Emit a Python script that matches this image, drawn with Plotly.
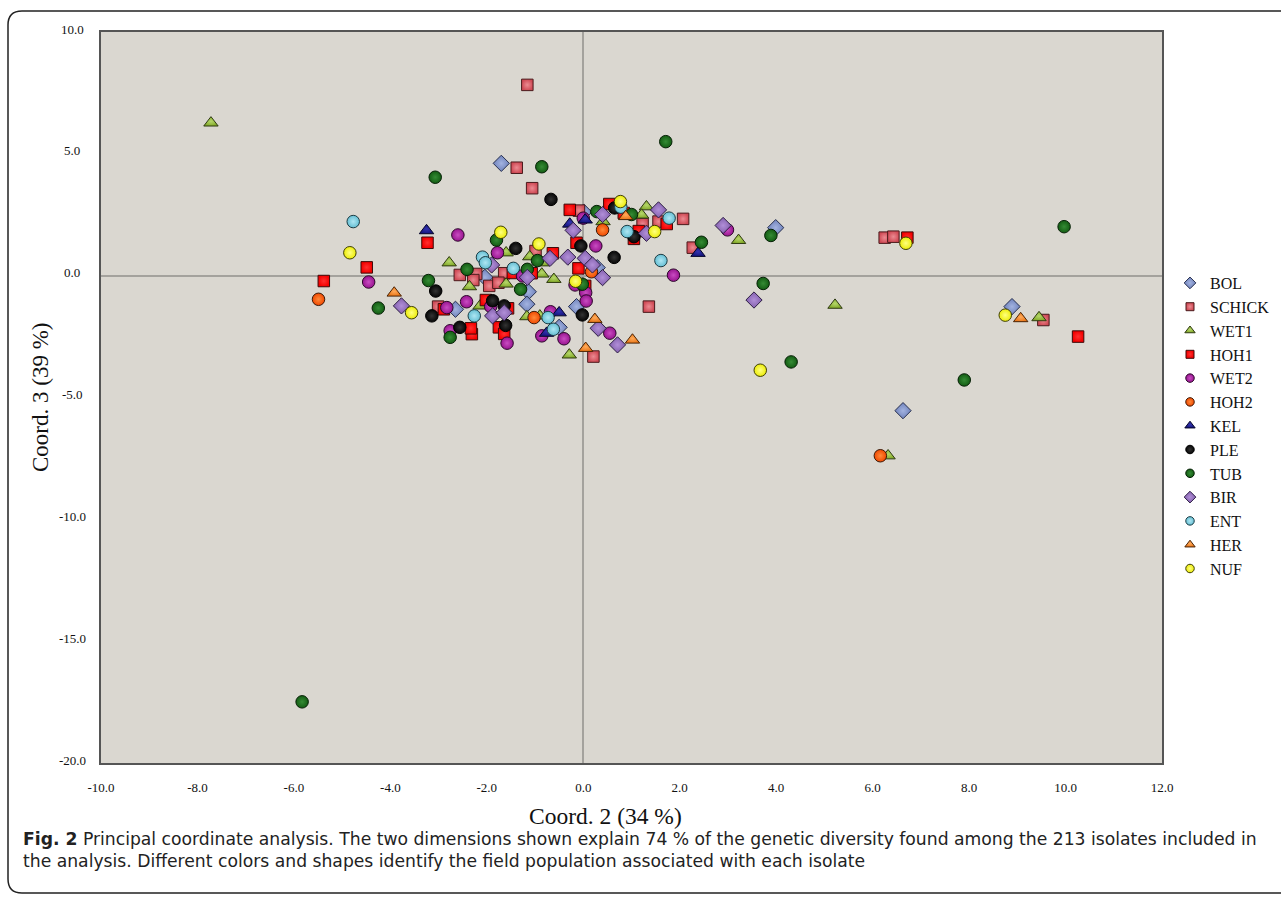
import plotly.graph_objects as go

# Principal coordinate scores (Coord. 2, Coord. 3) per field population
BOL_x = [-1.70, 3.99, 8.89, 6.63, -1.14, -1.17, -2.65, -0.14, -2.04, -0.50, 0.29, 0.01]
BOL_y = [4.61, 1.97, -1.27, -5.54, -0.66, -1.17, -1.38, -1.27, -0.07, -2.12, 0.33, 2.61]

SCHICK_x = [-1.16, -1.38, -1.06, -0.09, 1.23, 1.56, 2.07, 2.27, 6.25, 6.43, 9.54, 1.36, 0.21,
            -0.99, -2.56, -2.22, -1.64, -1.95, -1.76, -3.01, -2.28]
SCHICK_y = [7.83, 4.43, 3.59, 2.67, 2.12, 2.22, 2.33, 1.15, 1.56, 1.60, -1.82, -1.27, -3.32,
            1.01, 0.03, 0.07, 0.10, -0.42, -0.29, -1.27, -0.18]

WET1_x = [-7.72, 1.31, 1.21, 3.22, 5.22, 9.45, 6.32, -2.78, -1.60, -1.11, -0.86, -0.61, -2.36,
          -1.60, -2.14, -1.17, -0.29, -0.85, -0.90, 0.41]
WET1_y = [6.27, 2.83, 2.49, 1.45, -1.21, -1.72, -7.39, 0.53, 0.94, 0.78, 0.07, -0.15, -0.45,
          -0.34, -1.24, -1.68, -3.25, 0.53, -1.65, 2.22]

HOH1_x = [-0.28, 0.54, 1.73, 1.15, -3.23, -4.49, -5.38, 6.72, 10.26, -0.63, -0.14, -0.10, -2.02,
          -1.75, -1.64, -2.31, -2.89, -1.56, -1.07, 0.84, 1.05, -2.33, 0.04, -1.46]
HOH1_y = [2.70, 2.94, 2.12, 1.83, 1.35, 0.34, -0.22, 1.56, -2.50, 0.92, 1.35, 0.30, -1.00,
          -2.12, -2.39, -2.40, -1.38, -1.34, 0.10, 2.57, 1.51, -2.16, -0.42, 0.11]

WET2_x = [-2.60, -4.45, -1.78, 0.26, 1.87, 2.99, -1.26, -0.17, 0.05, 0.06, -2.42, -2.83, -2.76,
          -1.58, -0.68, -0.86, -0.40, 0.55, -1.92, 0.00]
WET2_y = [1.67, -0.26, 0.94, 1.22, 0.02, 1.88, -0.01, -0.38, -0.70, -1.04, -1.07, -1.31, -2.26,
          -2.77, -1.48, -2.47, -2.59, -2.36, -1.27, 2.36]

HOH2_x = [-5.49, 0.40, 0.17, -1.02, 6.16]
HOH2_y = [-0.97, 1.88, 0.16, -1.72, -7.39]

KEL_x = [-3.25, -0.28, 0.04, 2.38, -0.50, -0.76]
KEL_y = [1.85, 2.12, 2.29, 0.92, -1.52, -2.36]

PLE_x = [-0.67, 0.65, 1.05, -1.40, -0.05, 0.64, -3.06, -3.14, -1.88, -1.64, -2.56, -1.61, -0.02]
PLE_y = [3.13, 2.78, 1.60, 1.12, 1.22, 0.75, -0.63, -1.65, -1.03, -1.24, -2.12, -2.04, -1.61]

TUB_x = [1.71, -0.86, -3.07, -5.83, 9.97, 0.28, 1.00, 2.45, 3.89, 3.73, 4.31, 7.90, -1.80,
         -0.95, -2.41, -1.16, -3.21, -4.25, -1.30, -0.02, -2.76]
TUB_y = [5.50, 4.47, 4.04, -17.49, 2.01, 2.63, 2.51, 1.37, 1.65, -0.32, -3.54, -4.28, 1.46,
         0.62, 0.26, 0.26, -0.20, -1.33, -0.56, -0.35, -2.53]

BIR_x = [1.56, 0.40, -0.21, 2.90, 3.54, -3.77, -1.90, -0.69, -0.32, 0.04, 0.19, 0.40, -1.16,
         -1.88, -1.64, 0.31, 0.71, 1.31]
BIR_y = [2.70, 2.51, 1.86, 2.06, -1.00, -1.24, 0.44, 0.71, 0.76, 0.71, 0.44, -0.08, -0.07,
         -1.65, -1.52, -2.16, -2.84, 1.74]

ENT_x = [-4.77, 0.78, 0.91, 1.78, 1.61, -2.09, -2.03, -1.45, -2.26, -0.73, -0.62]
ENT_y = [2.22, 2.81, 1.81, 2.36, 0.62, 0.76, 0.53, 0.30, -1.65, -1.72, -2.20]

HER_x = [-3.92, 0.88, 0.24, 0.05, 1.02, 9.07]
HER_y = [-0.71, 2.43, -1.79, -2.98, -2.64, -1.76]

NUF_x = [-4.84, -3.56, -1.71, -0.92, 0.77, 1.48, -0.16, 6.69, 8.75, 3.67]
NUF_y = [0.94, -1.52, 1.78, 1.30, 3.04, 1.81, -0.23, 1.33, -1.62, -3.88]

x_ticks = [-10, -8, -6, -4, -2, 0, 2, 4, 6, 8, 10, 12]
x_tick_labels = ["-10.0", "-8.0", "-6.0", "-4.0", "-2.0", "0.0", "2.0", "4.0", "6.0", "8.0",
                 "10.0", "12.0"]
y_ticks = [10, 5, 0, -5, -10, -15, -20]
y_tick_labels = ["10.0", "5.0", "0.0", "-5.0", "-10.0", "-15.0", "-20.0"]

# name, x, y, symbol, fill, highlight, outline
populations = [
    ("BOL", BOL_x, BOL_y, "diamond", "#6f82bb", "#a3b3e0", "#28304f"),
    ("SCHICK", SCHICK_x, SCHICK_y, "square", "#cf4a55", "#ec8b92", "#4a1a1c"),
    ("WET1", WET1_x, WET1_y, "triangle-up", "#84ab2a", "#b5d66a", "#2f3a12"),
    ("HOH1", HOH1_x, HOH1_y, "square", "#f40000", "#ff3030", "#3c0a0a"),
    ("WET2", WET2_x, WET2_y, "circle", "#98148f", "#c94cc2", "#2c082b"),
    ("HOH2", HOH2_x, HOH2_y, "circle", "#f04800", "#ff8a3a", "#3c1a08"),
    ("KEL", KEL_x, KEL_y, "triangle-up", "#15157e", "#3333b0", "#05052a"),
    ("PLE", PLE_x, PLE_y, "circle", "#060606", "#333333", "#000000"),
    ("TUB", TUB_x, TUB_y, "circle", "#135c13", "#358c35", "#062006"),
    ("BIR", BIR_x, BIR_y, "diamond", "#8360ad", "#b18fd8", "#2e1f45"),
    ("ENT", ENT_x, ENT_y, "circle", "#66bfd3", "#aee6f3", "#1c3c44"),
    ("HER", HER_x, HER_y, "triangle-up", "#ea7718", "#ffaa5a", "#4a2406"),
    ("NUF", NUF_x, NUF_y, "circle", "#ecec08", "#ffff80", "#3f3f05"),
]

sizes = {"circle": 12.5, "square": 11.5, "triangle-up": 12.5, "diamond": 12.5}
legend_sizes = {"circle": 8.5, "square": 8, "triangle-up": 9, "diamond": 9}

fig = go.Figure()
for name, xs, ys, sym, fill, hi, edge in populations:
    fig.add_trace(go.Scatter(
        x=xs, y=ys, mode="markers", name=name, showlegend=False, legendgroup=name,
        marker=dict(symbol=sym, size=sizes[sym], color=fill,
                    gradient=dict(type="radial", color=hi),
                    line=dict(color=edge, width=1)),
    ))
# legend keys use smaller symbols than the plotted points
for name, xs, ys, sym, fill, hi, edge in populations:
    fig.add_trace(go.Scatter(
        x=[None], y=[None], mode="markers", name=name, legendgroup=name,
        marker=dict(symbol=sym, size=legend_sizes[sym], color=fill,
                    gradient=dict(type="radial", color=hi),
                    line=dict(color=edge, width=1)),
    ))

serif = "Liberation Serif"

# plot area geometry in pixels (for placing text around it)
W, H = 1281, 900
L, R, T, B = 101, 1162, 32, 763


def px_x(p):
    return (p - L) / (R - L)


def px_y(p):
    return (B - p) / (B - T)


annotations = []
for v, lab in zip(y_ticks, y_tick_labels):
    annotations.append(dict(x=px_x(72), xref="paper", y=v, yref="y", text=lab,
                            showarrow=False, xanchor="center", yanchor="middle", yshift=3,
                            font=dict(family=serif, size=13, color="#111")))

annotations += [
    dict(x=px_x(605), y=px_y(816), xref="paper", yref="paper", text="Coord. 2 (34 %)",
         showarrow=False, xanchor="center", yanchor="middle",
         font=dict(family=serif, size=23.5, color="#111")),
    dict(x=px_x(40), y=px_y(398), xref="paper", yref="paper", text="Coord. 3 (39 %)",
         showarrow=False, xanchor="center", yanchor="middle", textangle=-90,
         font=dict(family=serif, size=23, color="#111")),
    dict(x=px_x(21), y=px_y(839), xref="paper", yref="paper",
         text="<b>Fig. 2</b> Principal coordinate analysis. The two dimensions shown explain 74 % of "
              "the genetic diversity found among the 213 isolates included in",
         showarrow=False, xanchor="left", yanchor="middle", align="left",
         font=dict(family="DejaVu Sans", size=17.2, color="#222")),
    dict(x=px_x(21), y=px_y(861), xref="paper", yref="paper",
         text="the analysis. Different colors and shapes identify the field population associated "
              "with each isolate",
         showarrow=False, xanchor="left", yanchor="middle", align="left",
         font=dict(family="DejaVu Sans", size=17.2, color="#222")),
]

# rounded frame around the figure panel (right side runs past the page edge)
fl, ft, fb, fr = px_x(8), px_y(11), px_y(893), px_x(1300)
rx, ry = 14 / (R - L), 14 / (B - T)
frame_path = (f"M {fr},{ft} L {fl + rx},{ft} Q {fl},{ft} {fl},{ft - ry} "
              f"L {fl},{fb + ry} Q {fl},{fb} {fl + rx},{fb} L {fr},{fb}")

fig.update_layout(
    width=W, height=H,
    margin=dict(l=L, r=W - R, t=T, b=H - B, autoexpand=False),
    paper_bgcolor="white",
    plot_bgcolor="#dad7d0",
    showlegend=True,
    legend=dict(x=px_x(1170), y=px_y(266), xanchor="left", yanchor="top",
                bgcolor="rgba(0,0,0,0)", font=dict(family=serif, size=16, color="#111"),
                itemsizing="trace", tracegroupgap=0),
    annotations=annotations,
    shapes=[dict(type="path", path=frame_path, xref="paper", yref="paper",
                 line=dict(color="#222", width=1.5))],
)

fig.update_xaxes(range=[-10, 12], tickvals=x_ticks, ticktext=x_tick_labels,
                 showgrid=False, zeroline=True, zerolinecolor="#a4a29d", zerolinewidth=1.5,
                 showline=True, mirror=True, linecolor="#555", linewidth=1.5,
                 ticks="", ticklabelstandoff=12,
                 tickfont=dict(family=serif, size=13, color="#111"))
fig.update_yaxes(range=[-20, 10], tickvals=y_ticks, showticklabels=False,
                 showgrid=False, zeroline=True, zerolinecolor="#a4a29d", zerolinewidth=1.5,
                 showline=True, mirror=True, linecolor="#555", linewidth=1.5, ticks="")

fig.write_html("out.html")
